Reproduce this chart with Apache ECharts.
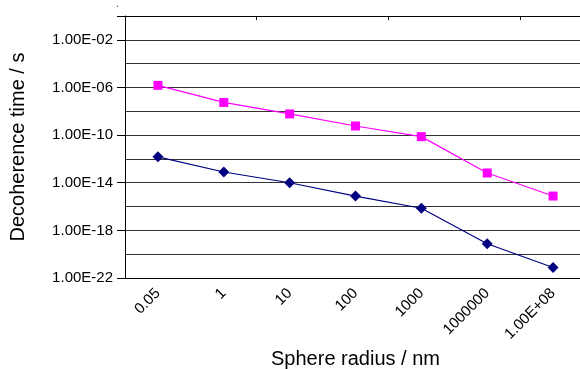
<!DOCTYPE html>
<html>
<head>
<meta charset="utf-8">
<script src="https://cdn.jsdelivr.net/npm/echarts@6/dist/echarts.min.js"></script>
<style>html,body{margin:0;padding:0;background:#fff;}#c{width:580px;height:369px;}</style>
</head>
<body>
<div id="c"></div>
<script>
const categories = ['0.05', '1', '10', '100', '1000', '1000000', '1.00E+08'];
const seriesUpper = [1.5e-6, 5.5e-8, 6e-9, 5.8e-10, 7.4e-11, 6.6e-14, 7.6e-16];
const seriesLower = [1.5e-12, 8e-14, 1e-14, 7.6e-16, 7.2e-17, 7.6e-20, 7.6e-22];
const yLabelExponents = [-22, -18, -14, -10, -6, -2];
const yMinExp = -22;
const yMaxExp = 0;

const FONT = '"Liberation Sans", Arial, sans-serif';
// decades axis: values are plotted by their base-10 exponent (log scale)
const upperExp = seriesUpper.map(Math.log10);
const lowerExp = seriesLower.map(Math.log10);
function fmtExp(e) {
  e = Math.round(e);
  const s = e < 0 ? '-' : '+';
  const a = Math.abs(e);
  return '1.00E' + s + (a < 10 ? '0' + a : '' + a);
}

const chart = echarts.init(document.getElementById('c'), null, {renderer: 'canvas'});
chart.setOption({
  animation: false,
  backgroundColor: '#fff',
  title: {text: '.', left: 111, top: -6, textStyle: {fontSize: 10, color: '#444', fontWeight: 'normal', fontFamily: FONT}},
  grid: {left: 125, top: 16, width: 461, height: 262, containLabel: false, outerBoundsMode: 'none'},
  xAxis: [{
    type: 'category', data: categories, position: 'bottom', boundaryGap: true,
    axisLine: {show: true, onZero: false, lineStyle: {color: '#000', width: 1}},
    axisTick: {show: false},
    axisLabel: {rotate: 45, margin: 13, fontSize: 15, color: '#000', fontFamily: FONT, interval: 0, hideOverlap: false},
    name: 'Sphere radius / nm', nameLocation: 'middle', nameGap: 71, nameMoveOverlap: false,
    nameTextStyle: {fontSize: 20, color: '#000', fontFamily: FONT}
  }, {
    type: 'category', data: categories, position: 'top', boundaryGap: true,
    axisLine: {show: true, onZero: false, lineStyle: {color: '#000', width: 1}},
    axisTick: {show: true, inside: true, length: 4, lineStyle: {color: '#000'}},
    axisLabel: {show: false}
  }],
  yAxis: [{
    type: 'value', min: yMinExp, max: yMaxExp, interval: 2,
    axisLine: {show: true, onZero: false, lineStyle: {color: '#000', width: 1}},
    axisTick: {show: false},
    splitLine: {show: true, lineStyle: {color: '#333', width: 1}},
    axisLabel: {
      margin: 12, fontSize: 15, color: '#000', fontFamily: FONT,
      showMinLabel: true, showMaxLabel: true, hideOverlap: false,
      formatter: function (v) {
        return yLabelExponents.indexOf(Math.round(v)) >= 0 ? fmtExp(v) : '';
      }
    },
    name: 'Decoherence time / s', nameLocation: 'middle', nameGap: 97, nameMoveOverlap: false,
    nameTextStyle: {fontSize: 20, color: '#000', fontFamily: FONT}
  }, {
    type: 'value', min: yMinExp, max: yMaxExp, interval: 4, position: 'left', offset: 0,
    axisLine: {show: false, onZero: false},
    axisTick: {show: true, length: 8, lineStyle: {color: '#000', width: 1}},
    splitLine: {show: false},
    axisLabel: {show: false}
  }],
  series: [{
    type: 'line', data: upperExp, xAxisIndex: 0, yAxisIndex: 0,
    symbol: 'rect', symbolSize: 9, showAllSymbol: true,
    lineStyle: {color: '#FF00FF', width: 1.2},
    itemStyle: {color: '#FF00FF'}
  }, {
    type: 'line', data: lowerExp, xAxisIndex: 0, yAxisIndex: 0,
    symbol: 'diamond', symbolSize: 11, showAllSymbol: true,
    lineStyle: {color: '#000080', width: 1.2},
    itemStyle: {color: '#000080'}
  }]
});
</script>
</body>
</html>
